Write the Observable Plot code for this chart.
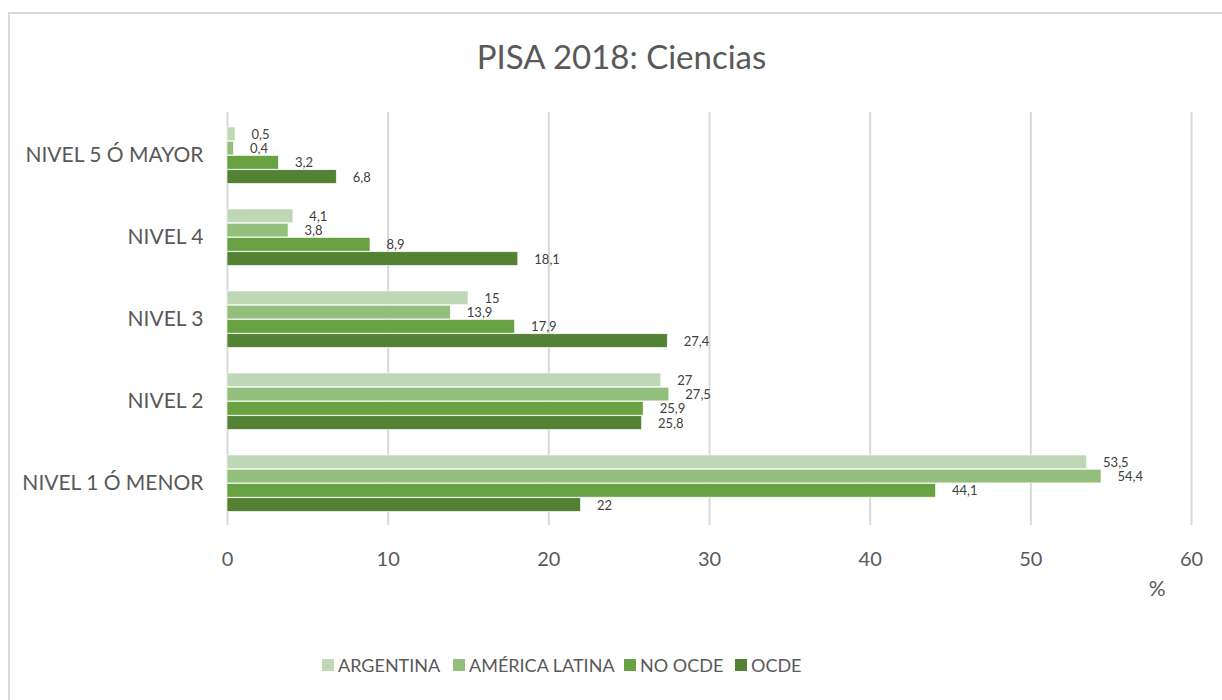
<!DOCTYPE html>
<html>
<head>
<meta charset="utf-8">
<script src="https://cdn.jsdelivr.net/npm/d3@7"></script>
<script src="https://cdn.jsdelivr.net/npm/@observablehq/plot@0.6"></script>
<style>
  html, body { margin: 0; padding: 0; background: #fff; }
  body { width: 1222px; height: 700px; position: relative; overflow: hidden; font-family: Lato, "Open Sans", sans-serif; }
  #frame { position: absolute; left: 8px; top: 12px; width: 1240px; height: 720px; border: 2px solid #d9d9d9; box-sizing: border-box; }
  #title { position: absolute; top: 36px; left: 0; width: 1243px; text-align: center; font-size: 33px; color: #595959; }
  #chart { position: absolute; left: 0; top: 0; }
  #legend { position: absolute; top: 654px; left: 0; width: 1222px; height: 24px; font-size: 18px; color: #595959; }
  .item { position: absolute; top: 0; display: flex; align-items: center; white-space: nowrap; }
  .sw { width: 12px; height: 12px; margin-right: 4px; display: inline-block; }
</style>
</head>
<body>
<div id="frame"></div>
<div id="title">PISA 2018: Ciencias</div>
<div id="chart"></div>
<div id="legend"></div>
<script>
const levels = ["NIVEL 5 Ó MAYOR", "NIVEL 4", "NIVEL 3", "NIVEL 2", "NIVEL 1 Ó MENOR"];
const series = ["ARGENTINA", "AMÉRICA LATINA", "NO OCDE", "OCDE"];
const argentina = [0.5, 4.1, 15, 27, 53.5];
const americaLatina = [0.4, 3.8, 13.9, 27.5, 54.4];
const noOcde = [3.2, 8.9, 17.9, 25.9, 44.1];
const ocde = [6.8, 18.1, 27.4, 25.8, 22];
const xTicks = [0, 10, 20, 30, 40, 50, 60];
const colors = ["#bed7b4", "#93bf7c", "#68a243", "#548235"];
const legendLeft = [322, 453, 624, 735];

const seriesValues = [argentina, americaLatina, noOcde, ocde];
const data = [];
series.forEach((s, i) => levels.forEach((l, j) => data.push({level: l, series: s, value: seriesValues[i][j]})));

const H = 620, mTop = 112, mBottom = H - 525;
const step = (525 - 112) / levels.length;
const groupTop = 13, barH = 14.25;

const marks = [
  Plot.gridX(xTicks, {stroke: "#d9d9d9", strokeOpacity: 1, strokeWidth: 2})
];
series.forEach((s, i) => {
  const sub = data.filter(d => d.series === s);
  const top = groupTop + barH * i;
  const bottom = step - top - barH;
  marks.push(Plot.barX(sub, {x: "value", y: "level", fill: colors[i], stroke: "white", strokeWidth: 0.6, insetTop: top, insetBottom: bottom}));
  marks.push(Plot.text(sub, {x: "value", y: "level", text: d => String(d.value).replace(".", ","), textAnchor: "start", dx: 16, dy: top + barH / 2 - step / 2 + 0.5, fill: "#404040", fontSize: 13}));
});
marks.push(Plot.text(["%"], {frameAnchor: "bottom-right", text: d => d, textAnchor: "end", dx: -26, dy: 70, fontSize: 21, fill: "#595959"}));

const chart = Plot.plot({
  width: 1222,
  height: H,
  marginLeft: 227,
  marginRight: 31,
  marginTop: mTop,
  marginBottom: mBottom,
  style: {fontFamily: "Lato, 'Open Sans', sans-serif", background: "transparent", color: "#595959"},
  x: {domain: [0, 60], ticks: xTicks, tickSize: 0, tickPadding: 26, label: null, tickFormat: d => String(d)},
  y: {domain: levels, padding: 0, tickSize: 0, tickPadding: 24, label: null},
  marks: [
    ...marks,
    Plot.axisX(xTicks, {tickSize: 0, tickPadding: 26, fontSize: 20, fill: "#595959", label: null}),
    Plot.axisY({tickSize: 0, tickPadding: 24, fontSize: 21, fill: "#595959", label: null})
  ]
});
document.getElementById("chart").appendChild(chart);

const legend = document.getElementById("legend");
series.forEach((s, i) => {
  const it = document.createElement("div");
  it.className = "item";
  it.style.left = legendLeft[i] + "px";
  const sw = document.createElement("span");
  sw.className = "sw";
  sw.style.background = colors[i];
  it.appendChild(sw);
  it.appendChild(document.createTextNode(s));
  legend.appendChild(it);
});
</script>
</body>
</html>
